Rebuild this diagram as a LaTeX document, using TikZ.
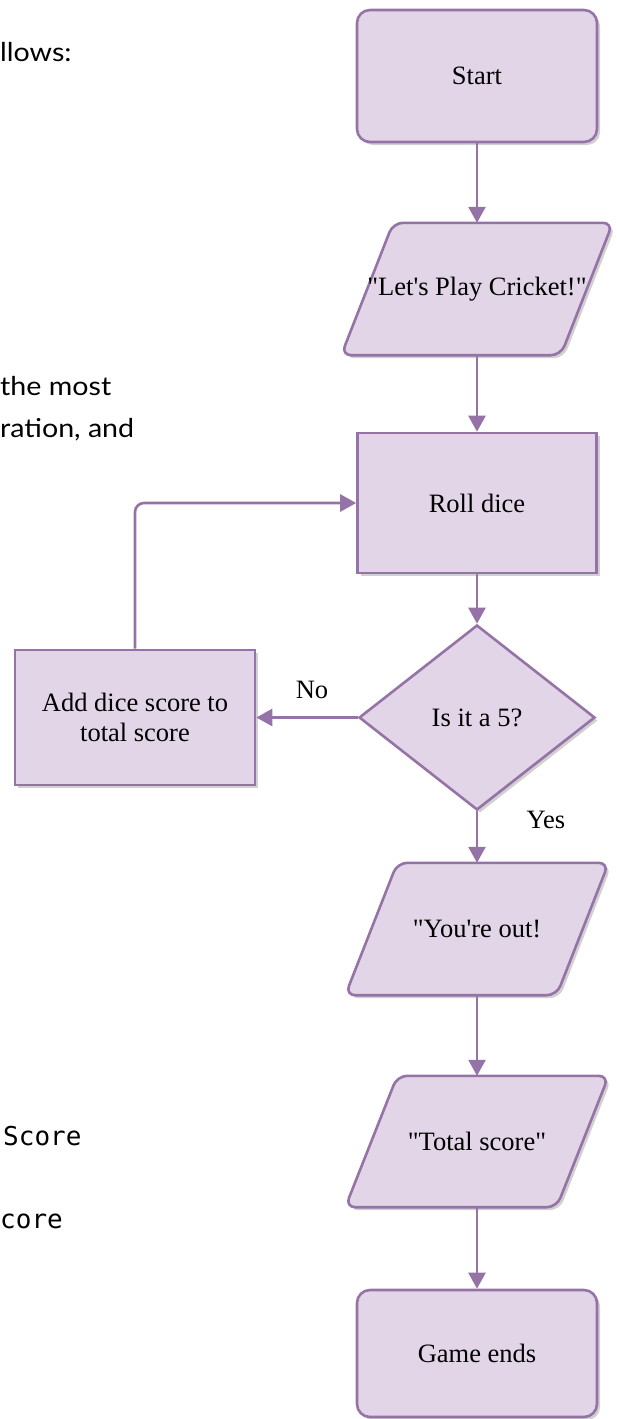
\documentclass[tikz,border=0pt]{standalone}
\usepackage{fontspec}
\newfontfamily\timesf{Liberation Serif}
\newfontfamily\gillfont{Lato}
\newfontfamily\codefont{DejaVu Sans Mono}
\usetikzlibrary{arrows.meta,shapes.geometric,shadows,backgrounds,calc}
\definecolor{boxfill}{HTML}{E1D5E7}
\definecolor{boxline}{HTML}{9673A6}
\tikzset{
 shp/.style={draw=boxline, fill=boxfill, line width=2.6pt,
   drop shadow={shadow xshift=3pt, shadow yshift=-3pt, opacity=0.4, fill=black!45}},
 flowfont/.style={font=\timesf\fontsize{26.5}{30}\selectfont, align=center},
 termbox/.style={shp, flowfont, rounded corners=13pt, minimum width=240pt, inner sep=0pt},
 procbox/.style={shp, flowfont, inner sep=0pt},
 decbox/.style={shp, flowfont, diamond, minimum width=236pt, minimum height=185pt, inner sep=0pt},
 iotext/.style={flowfont, minimum width=211pt, minimum height=132pt, inner sep=0pt},
 ioshape/.style={shp, rounded corners=10pt},
 flow/.style={draw=boxline, line width=2.6pt, -{Triangle[length=16pt,width=17pt]}},
 lbl/.style={flowfont, inner sep=0pt},
 doctext/.style={anchor=base west, inner sep=0pt, xscale=1.1, transform shape,
   font=\gillfont\fontsize{26}{30}\selectfont},
 codetext/.style={anchor=base west, inner sep=0pt, font=\codefont\fontsize{26}{30}\selectfont},
}
\begin{document}
\begin{tikzpicture}[x=1pt,y=-1pt]
\useasboundingbox (0,0) rectangle (617,1419);

% cropped document text on the left
\node[doctext] (t1) at (0,61) {llows:};
\node[doctext] (t2) at (0,395) {the most};
\node[doctext] (t3) at (0,437) {ration, and};
\node[codetext] (t4) at (3,1145) {Score};
\node[codetext] (t5) at (0,1228) {core};

% flowchart nodes
\node[termbox, minimum height=132pt] (start) at (477,76) {Start};
\node[iotext] (lets) at (477,289) {"Let's Play Cricket!"};
\node[procbox, minimum width=239pt, minimum height=140pt] (roll) at (477,503) {Roll dice};
\node[decbox] (dec) at (477,717.5) {Is it a 5?};
\node[procbox, minimum width=240pt, minimum height=135pt] (add) at (135,717.5) {Add dice score to\\total score};
\node[iotext] (out) at (477,929) {"You're out!};
\node[iotext, minimum height=131pt] (total) at (477,1141.5) {"Total score"};
\node[termbox, minimum height=127pt] (gend) at (477,1353.5) {Game ends};

\begin{pgfonlayer}{background}
\foreach \n in {lets,out,total}{
  \draw[ioshape] ([xshift=26pt]\n.north west) -- ([xshift=26pt]\n.north east)
     -- ([xshift=-26pt]\n.south east) -- ([xshift=-26pt]\n.south west) -- cycle;
}
\end{pgfonlayer}

% connectors
\draw[flow] (start) -- (lets);
\draw[flow] (lets) -- (roll);
\draw[flow] (roll) -- (dec);
\draw[flow] (dec.south) -- (out.north);
\draw[flow] (out) -- (total);
\draw[flow] (total) -- (gend);
\draw[flow] (dec.west) -- (add.east);
\draw[flow, rounded corners=9pt] (add.north) |- (roll.west);

% connector labels
\node[lbl] (nolbl) at (312,690) {No};
\node[lbl] (yeslbl) at (546,820) {Yes};
\end{tikzpicture}
\end{document}
